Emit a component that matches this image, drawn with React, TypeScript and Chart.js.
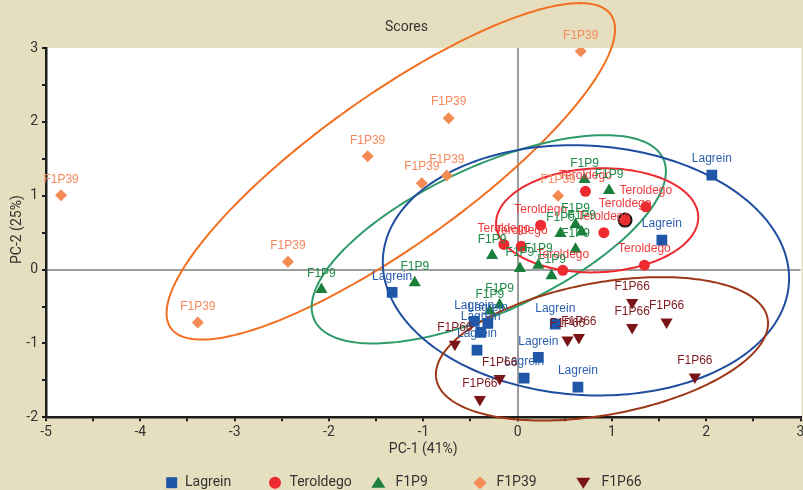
import React, { useEffect, useRef } from "react";
import { Chart, registerables } from "chart.js";

Chart.register(...registerables);

// ---------- data ----------
const seriesNames = ["Lagrein", "Teroldego", "F1P9", "F1P39", "F1P66"];

const lagreinX = [2.06, 1.53, -1.33, -0.46, -0.315, -0.39, -0.43, 0.40, 0.22, 0.07, 0.64];
const lagreinY = [1.28, 0.40, -0.31, -0.70, -0.73, -0.85, -1.09, -0.74, -1.19, -1.47, -1.59];

const teroldegoX = [0.72, 1.14, 1.36, 0.915, 0.245, -0.145, 0.04, 0.48, 1.345];
const teroldegoY = [1.06, 0.67, 0.85, 0.50, 0.60, 0.34, 0.315, -0.01, 0.06];
const teroldegoHighlight = 1;

const f1p9X = [0.71, 0.97, 0.615, 0.455, 0.68, 0.615, -0.27, 0.025, 0.22, 0.36, -2.08, -1.09, -0.19, -0.295];
const f1p9Y = [1.22, 1.07, 0.61, 0.49, 0.51, 0.275, 0.19, 0.015, 0.06, -0.085, -0.27, -0.18, -0.48, -0.56];

const f1p39X = [-4.84, 0.67, -0.73, -1.59, -1.015, -0.75, -2.435, -3.39, 0.43];
const f1p39Y = [1.005, 2.955, 2.05, 1.535, 1.17, 1.275, 0.105, -0.715, 1.0];

const f1p66X = [1.215, 1.58, 1.215, 0.65, 0.53, 1.88, -0.19, -0.40, -0.665];
const f1p66Y = [-0.445, -0.71, -0.785, -0.92, -0.955, -1.455, -1.475, -1.76, -1.01];

// confidence ellipses: centre + two conjugate half-axis vectors (data units)
const ellipseCx = [-1.344, -0.305, 0.725, 0.844, 0.895];
const ellipseCy = [1.33, 0.41, -0.01, 0.667, -1.073];
const ellipseUx = [2.332, 1.878, 2.154, 1.072, 1.761];
const ellipseUy = [2.123, 0.92, -0.108, 0.04, 0.346];
const ellipseVx = [0.463, 0, 0, 0, 0];
const ellipseVy = [-0.826, 1.069, 1.691, 0.704, 0.907];
const ellipseColors = ["#f26f22", "#2f9a6a", "#1f4e9f", "#ec2a30", "#9e3717"];

const xTickMin = -5;
const xTickMax = 3;
const yTickMin = -2;
const yTickMax = 3;

const titleText = "Scores";
const xTitle = "PC-1 (41%)";
const yTitle = "PC-2 (25%)";

// ---------- styles ----------
const markerColors = ["#1f56a8", "#ec2a2f", "#1a7f3b", "#f38b55", "#7a1517"];
const labelColors = ["#2b5fae", "#ee3a3c", "#1f8b47", "#f5895c", "#7d1b1f"];
const BG = "#e6dfbf";
const INK = "#333333";
const AXIS = "#1e1c1c";

const toPts = (xs: number[], ys: number[]) => xs.map((x, i) => ({ x, y: ys[i] }));

const bgPlugin = {
  id: "bg",
  beforeDraw(chart: any) {
    const { ctx, chartArea: a, width, height } = chart;
    ctx.save();
    ctx.fillStyle = BG;
    ctx.fillRect(0, 0, width, height);
    ctx.fillStyle = "#ffffff";
    ctx.fillRect(a.left, a.top, a.right - a.left + 1, a.bottom - a.top);
    ctx.restore();
  },
};

const ellipsePlugin = {
  id: "ellipses",
  beforeDatasetsDraw(chart: any) {
    const { ctx } = chart;
    const xs = chart.scales.x;
    const ys = chart.scales.y;
    ctx.save();
    ctx.lineWidth = 2;
    for (let k = 0; k < ellipseCx.length; k++) {
      ctx.beginPath();
      const n = 240;
      for (let i = 0; i <= n; i++) {
        const t = (i / n) * Math.PI * 2;
        const dx = ellipseCx[k] + ellipseUx[k] * Math.cos(t) + ellipseVx[k] * Math.sin(t);
        const dy = ellipseCy[k] + ellipseUy[k] * Math.cos(t) + ellipseVy[k] * Math.sin(t);
        const px = xs.getPixelForValue(dx);
        const py = ys.getPixelForValue(dy);
        if (i === 0) ctx.moveTo(px, py);
        else ctx.lineTo(px, py);
      }
      ctx.closePath();
      ctx.strokeStyle = ellipseColors[k];
      ctx.stroke();
    }
    ctx.restore();
  },
};

const labelPlugin = {
  id: "pointLabels",
  afterDatasetsDraw(chart: any) {
    const { ctx } = chart;
    ctx.save();
    ctx.font = "12px 'Liberation Sans', Arial, sans-serif";
    ctx.textAlign = "center";
    ctx.textBaseline = "middle";
    chart.data.datasets.forEach((ds: any, di: number) => {
      const meta = chart.getDatasetMeta(di);
      ctx.fillStyle = labelColors[di];
      meta.data.forEach((el: any) => {
        ctx.fillText(ds.label, el.x, el.y - 16);
      });
    });
    ctx.restore();
  },
};

function drawMarker(ctx: CanvasRenderingContext2D, kind: number, x: number, y: number) {
  ctx.fillStyle = markerColors[kind];
  ctx.beginPath();
  if (kind === 0) {
    ctx.rect(x - 5.5, y - 5.5, 11, 11);
  } else if (kind === 1) {
    ctx.arc(x, y, 6, 0, Math.PI * 2);
  } else if (kind === 2) {
    ctx.moveTo(x, y - 6);
    ctx.lineTo(x + 7, y + 5);
    ctx.lineTo(x - 7, y + 5);
  } else if (kind === 3) {
    ctx.moveTo(x, y - 6.5);
    ctx.lineTo(x + 6.5, y);
    ctx.lineTo(x, y + 6.5);
    ctx.lineTo(x - 6.5, y);
  } else {
    ctx.moveTo(x - 7, y - 5);
    ctx.lineTo(x + 7, y - 5);
    ctx.lineTo(x, y + 6);
  }
  ctx.closePath();
  ctx.fill();
}

const legendMarkerX = [171.7, 275, 378.3, 480, 583.3];
const legendTextX = [185, 289.5, 395.5, 496.5, 601.5];

const textPlugin = {
  id: "texts",
  afterDraw(chart: any) {
    const { ctx, chartArea: a } = chart;
    ctx.save();
    ctx.fillStyle = INK;
    ctx.font = "14px Roboto, sans-serif";
    ctx.textAlign = "center";
    ctx.textBaseline = "middle";
    ctx.fillText(titleText, 406.5, 27.5);

    ctx.font = "14px Roboto, sans-serif";
    ctx.fillText(xTitle, (a.left + a.right) / 2, 449.5);
    ctx.save();
    ctx.translate(17, (a.top + a.bottom) / 2 - 3);
    ctx.rotate(-Math.PI / 2);
    ctx.fillText(yTitle, 0, 0);
    ctx.restore();

    // legend
    ctx.textAlign = "left";
    ctx.font = "14px Roboto, sans-serif";
    for (let i = 0; i < seriesNames.length; i++) {
      drawMarker(ctx, i, legendMarkerX[i], 482.7);
      ctx.fillStyle = INK;
      ctx.fillText(seriesNames[i], legendTextX[i], 482.5);
    }
    ctx.restore();
  },
};

export default function App() {
  const ref = useRef<HTMLCanvasElement | null>(null);

  useEffect(() => {
    if (!ref.current) return;
    const tickFont = { family: "Roboto, sans-serif", size: 14 };
    const chart = new Chart(ref.current, {
      type: "scatter",
      data: {
        datasets: [
          {
            label: seriesNames[0],
            data: toPts(lagreinX, lagreinY),
            pointStyle: "rect",
            pointRadius: 7.6,
            backgroundColor: markerColors[0],
            borderColor: markerColors[0],
            borderWidth: 0,
          },
          {
            label: seriesNames[1],
            data: toPts(teroldegoX, teroldegoY),
            pointStyle: "circle",
            pointRadius: teroldegoX.map((_, i) => (i === teroldegoHighlight ? 6.5 : 5.5)),
            backgroundColor: markerColors[1],
            borderColor: teroldegoX.map((_, i) => (i === teroldegoHighlight ? "#1a1a1a" : markerColors[1])),
            borderWidth: teroldegoX.map((_, i) => (i === teroldegoHighlight ? 2 : 0)),
          },
          {
            label: seriesNames[2],
            data: toPts(f1p9X, f1p9Y),
            pointStyle: "triangle",
            pointRadius: 7,
            backgroundColor: markerColors[2],
            borderWidth: 0,
          },
          {
            label: seriesNames[3],
            data: toPts(f1p39X, f1p39Y),
            pointStyle: "rectRot",
            pointRadius: 6,
            backgroundColor: markerColors[3],
            borderWidth: 0,
          },
          {
            label: seriesNames[4],
            data: toPts(f1p66X, f1p66Y),
            pointStyle: "triangle",
            rotation: 180,
            pointRadius: 7,
            backgroundColor: markerColors[4],
            borderWidth: 0,
          },
        ],
      },
      options: {
        responsive: false,
        animation: false,
        devicePixelRatio: 1,
        layout: { autoPadding: false, padding: { top: 48, right: 2.5, left: 0, bottom: 0 } },
        plugins: {
          legend: { display: false },
          title: { display: false },
          tooltip: { enabled: false },
        },
        events: [],
        scales: {
          x: {
            type: "linear",
            min: xTickMin,
            max: xTickMax,
            afterFit: (s: any) => {
              s.height = 72.7;
              s.paddingLeft = 0;
              s.paddingRight = 0;
            },
            ticks: {
              stepSize: 0.5,
              autoSkip: false,
              maxRotation: 0,
              padding: 3,
              color: INK,
              font: tickFont,
              callback: (v: any) => (Number.isInteger(Number(v)) ? String(v) : ""),
            },
            grid: {
              color: (c: any) => (c.tick && c.tick.value === 0 ? "#9e9e9e" : "rgba(0,0,0,0)"),
              lineWidth: 2,
              tickColor: AXIS,
              tickWidth: 2,
              tickLength: 4,
            },
            border: { display: true, color: AXIS, width: 2.5 },
          },
          y: {
            type: "linear",
            min: yTickMin,
            max: yTickMax,
            afterFit: (s: any) => {
              s.width = 46;
              s.paddingTop = 0;
              s.paddingBottom = 0;
            },
            ticks: {
              stepSize: 0.5,
              autoSkip: false,
              padding: 4,
              color: INK,
              font: tickFont,
              callback: (v: any) => (Number.isInteger(Number(v)) ? String(v) : ""),
            },
            grid: {
              color: (c: any) => (c.tick && c.tick.value === 0 ? "#9e9e9e" : "rgba(0,0,0,0)"),
              lineWidth: 2,
              tickColor: AXIS,
              tickWidth: 2,
              tickLength: 4,
            },
            border: { display: true, color: AXIS, width: 2.5 },
          },
        },
      } as any,
      plugins: [bgPlugin, ellipsePlugin, labelPlugin, textPlugin],
    });
    return () => chart.destroy();
  }, []);

  return (
    <div style={{ position: "fixed", left: 0, top: 0, width: 803, height: 490 }}>
      <canvas ref={ref} width={803} height={490} style={{ display: "block" }} />
    </div>
  );
}
